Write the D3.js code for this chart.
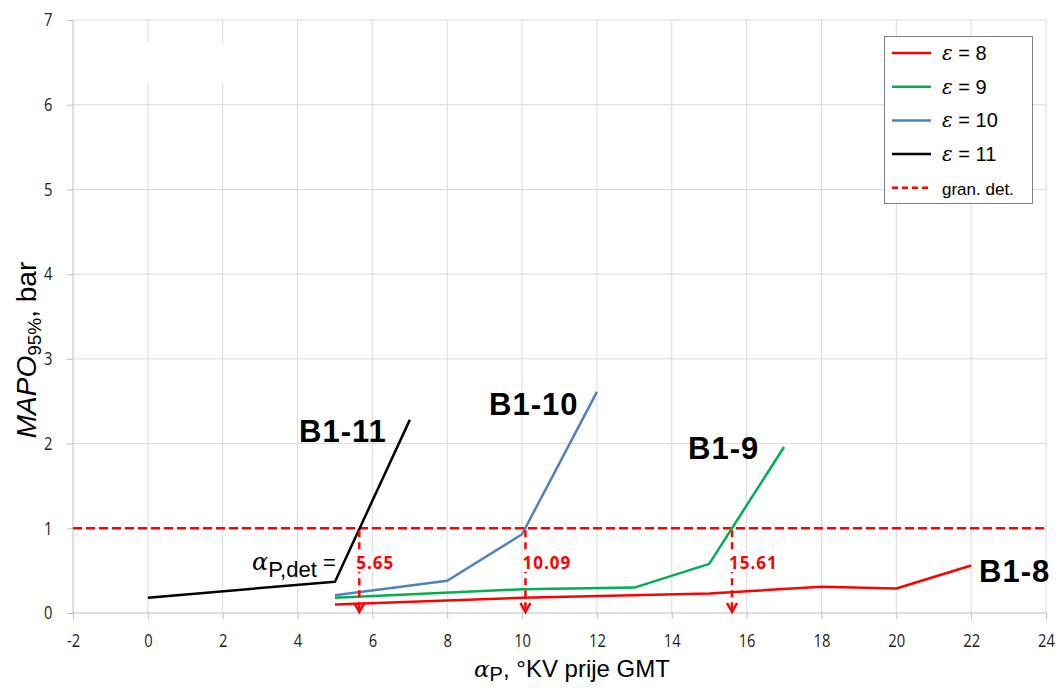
<!DOCTYPE html>
<html><head><meta charset="utf-8">
<script src="https://cdn.jsdelivr.net/npm/d3@7"></script>
<style>body{margin:0;background:#fff}svg{display:block}</style>
</head><body>
<svg id="c" width="1057" height="688"></svg>
<script>
const seriesNames = ["ε = 8", "ε = 9", "ε = 10", "ε = 11"];
const seriesLabels = ["B1-8", "B1-9", "B1-10", "B1-11"];
const seriesColors = ["#ff0000", "#00b050", "#4f81bd", "#000000"];
const xB18 = [5, 10, 15, 18, 20, 22];
const yB18 = [0.10, 0.18, 0.23, 0.31, 0.29, 0.56];
const xB19 = [5, 10, 13, 15, 17];
const yB19 = [0.18, 0.28, 0.30, 0.58, 1.96];
const xB110 = [5, 8, 10, 12];
const yB110 = [0.21, 0.38, 0.93, 2.61];
const xB111 = [0, 5, 7];
const yB111 = [0.18, 0.37, 2.28];
const detLimit = 1;
const detAngles = [5.65, 10.09, 15.61];
const xTicks = [-2, 0, 2, 4, 6, 8, 10, 12, 14, 16, 18, 20, 22, 24];
const yTicks = [0, 1, 2, 3, 4, 5, 6, 7];

const svg = d3.select("#c");
const x = d3.scaleLinear().domain([-2, 24]).range([73, 1046]);
const y = d3.scaleLinear().domain([0, 7]).range([613, 20]);
const tickFont = "'Open Sans', 'Noto Sans', sans-serif";
const arial = "'Liberation Sans', Arial, sans-serif";

// gridlines
svg.append("g").selectAll("line").data(xTicks.slice(1)).join("line")
  .attr("x1", d => x(d)).attr("x2", d => x(d)).attr("y1", y(7)).attr("y2", y(0))
  .attr("stroke", "#d9d9d9").attr("stroke-width", 1);
svg.append("g").selectAll("line").data(yTicks.slice(1)).join("line")
  .attr("x1", x(-2)).attr("x2", x(24)).attr("y1", d => y(d)).attr("y2", d => y(d))
  .attr("stroke", "#d9d9d9").attr("stroke-width", 1);
// white patch as in reference
svg.append("rect").attr("x", 78).attr("y", 43).attr("width", 218).attr("height", 41).attr("fill", "#fff");

// axes
const xAxis = d3.axisBottom(x).tickValues(xTicks).tickSize(6).tickPadding(15).tickFormat(d => String(d));
const gx = svg.append("g").attr("transform", `translate(0,${y(0)})`).call(xAxis);
gx.select(".domain").attr("stroke", "#bfbfbf").attr("d", `M${x(-2)},0H${x(24)}`);
gx.selectAll(".tick line").attr("stroke", "#bfbfbf");
gx.selectAll(".tick text").attr("font-family", tickFont).attr("font-size", 18).attr("fill", "#222")
  .attr("transform", "scale(0.82,1)");

const yAxis = d3.axisLeft(y).tickValues(yTicks).tickSize(6).tickPadding(15).tickFormat(d => String(d));
const gy = svg.append("g").attr("transform", `translate(${x(-2)},0)`).call(yAxis);
gy.select(".domain").attr("stroke", "#bfbfbf").attr("d", `M0,${y(7)}V${y(0)}`);
gy.selectAll(".tick line").attr("stroke", "#bfbfbf");
gy.selectAll(".tick text").attr("font-family", tickFont).attr("font-size", 18).attr("fill", "#222")
  .attr("x", -25).attr("transform", "scale(0.82,1)");

// detection limit line
svg.append("line").attr("x1", x(-2)).attr("x2", x(24)).attr("y1", y(detLimit)).attr("y2", y(detLimit))
  .attr("stroke", "#ff0000").attr("stroke-width", 2.5).attr("stroke-dasharray", "9,4");

// series
const allX = [xB18, xB19, xB110, xB111];
const allY = [yB18, yB19, yB110, yB111];
const line = d3.line().x(d => x(d[0])).y(d => y(d[1]));
allX.forEach((xs, i) => {
  const pts = xs.map((v, j) => [v, allY[i][j]]);
  svg.append("path").attr("d", line(pts)).attr("fill", "none")
    .attr("stroke", seriesColors[i]).attr("stroke-width", 2.5).attr("stroke-linejoin", "round");
});

// arrows
detAngles.forEach(a => {
  const ax = x(a);
  svg.append("line").attr("x1", ax).attr("x2", ax).attr("y1", y(detLimit) + 2).attr("y2", y(0) - 2)
    .attr("stroke", "#ff0000").attr("stroke-width", 2.5).attr("stroke-dasharray", "7,5");
  svg.append("path").attr("d", `M${ax - 5},${y(0) - 10}L${ax},${y(0) - 1}L${ax + 5},${y(0) - 10}`)
    .attr("fill", "none").attr("stroke", "#ff0000").attr("stroke-width", 2.5).attr("stroke-linejoin", "miter");
  const t = svg.append("text").attr("x", ax - 3).attr("y", 569).text(a.toFixed(2))
    .attr("font-family", tickFont).attr("font-weight", "bold").attr("letter-spacing", 1)
    .attr("font-size", 17).attr("fill", "#ff0000");
  const bb = t.node().getBBox();
  svg.insert("rect", () => t.node()).attr("x", bb.x).attr("y", bb.y + 2).attr("width", bb.width).attr("height", bb.height - 4).attr("fill", "#fff");
});

// alpha P,det label
const ad = svg.append("text").attr("x", 252).attr("y", 570)
  .attr("font-family", arial).attr("font-size", 22).attr("fill", "#000");
ad.append("tspan").attr("font-family", "'DejaVu Serif', serif").attr("font-style", "italic").attr("font-size", 24).text("α");
ad.append("tspan").attr("dy", 7).text("P,det");
ad.append("tspan").attr("dy", -7).text(" =");

// big series labels
const labelPos = [[979, 582], [688, 459], [489, 415], [299, 442]];
seriesLabels.forEach((t, i) => {
  svg.append("text").attr("x", labelPos[i][0]).attr("y", labelPos[i][1]).text(t)
    .attr("font-family", arial).attr("font-weight", "bold")
    .attr("font-size", 31).attr("letter-spacing", 1).attr("fill", "#000");
});

// axis titles
const xt = svg.append("text").attr("x", 572).attr("y", 677).attr("text-anchor", "middle")
  .attr("font-family", arial).attr("font-size", 24).attr("fill", "#000");
xt.append("tspan").attr("font-family", "'DejaVu Serif', serif").attr("font-style", "italic").attr("font-size", 23).text("α");
xt.append("tspan").attr("dy", 4).attr("font-size", 20).text("P");
xt.append("tspan").attr("dy", -4).text(", °KV prije GMT");

const yt = svg.append("text").attr("transform", "translate(36,350) rotate(-90)").attr("text-anchor", "middle")
  .attr("font-family", arial).attr("font-size", 28).attr("fill", "#000");
yt.append("tspan").attr("font-style", "italic").text("MAPO");
yt.append("tspan").attr("dy", 5).attr("font-size", 19).text("95%");
yt.append("tspan").attr("dy", -5).text(", bar");

// legend
const lg = svg.append("g");
lg.append("rect").attr("x", 884.5).attr("y", 36.5).attr("width", 148).attr("height", 167)
  .attr("fill", "#fff").attr("stroke", "#7f7f7f").attr("stroke-width", 1);
const legNames = seriesNames.concat(["gran. det."]);
const legColors = seriesColors.concat(["#ff0000"]);
legNames.forEach((n, i) => {
  const ly = 53 + i * 33.7;
  lg.append("line").attr("x1", 892).attr("x2", 931).attr("y1", ly).attr("y2", ly)
    .attr("stroke", legColors[i]).attr("stroke-width", 2.5)
    .attr("stroke-dasharray", i === 4 ? "6,4" : null);
  const t = lg.append("text").attr("x", 942).attr("y", ly + 7)
    .attr("font-family", arial).attr("font-size", i === 4 ? 17 : 20).attr("fill", "#000");
  if (i < 4) {
    t.append("tspan").attr("font-family", "'DejaVu Serif', serif").attr("font-style", "italic").text("ε");
    t.append("tspan").text(n.slice(1));
  } else t.text(n);
});
</script>
</body></html>
